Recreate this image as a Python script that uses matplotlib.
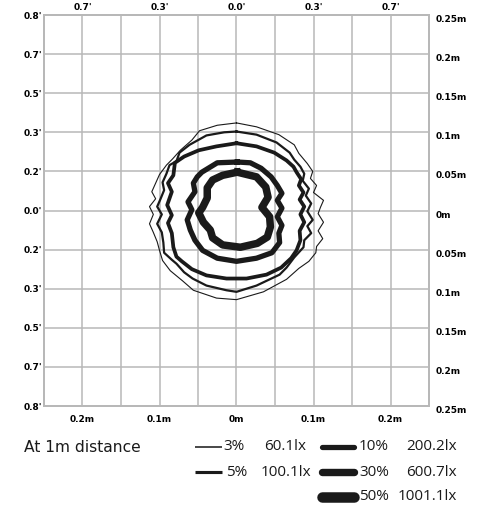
import numpy as np
import matplotlib
matplotlib.use('Agg')
import matplotlib.pyplot as plt
from matplotlib.lines import Line2D

# isolux contours at 1m distance, metres from beam centre
x3 = [0.000, 0.026, 0.055, 0.075, 0.081, 0.092, 0.099, 0.096, 0.104, 0.100, 0.113, 0.109,
      0.106, 0.113, 0.106, 0.112, 0.104, 0.103, 0.094, 0.081, 0.065, 0.035, 0.000, -0.026,
      -0.056, -0.070, -0.086, -0.096, -0.100, -0.103, -0.108, -0.113, -0.108, -0.113, -0.105,
      -0.110, -0.105, -0.100, -0.091, -0.083, -0.073, -0.058, -0.048, -0.025]
y3 = [0.112, 0.107, 0.097, 0.084, 0.073, 0.060, 0.050, 0.041, 0.032, 0.023, 0.013, 0.004,
      -0.004, -0.015, -0.026, -0.036, -0.046, -0.054, -0.065, -0.074, -0.088, -0.104, -0.114, -0.112,
      -0.102, -0.090, -0.077, -0.064, -0.051, -0.040, -0.028, -0.017, -0.005, 0.005, 0.015,
      0.024, 0.035, 0.046, 0.058, 0.066, 0.077, 0.090, 0.102, 0.109]

x5 = [0.000, 0.026, 0.052, 0.069, 0.075, 0.083, 0.088, 0.086, 0.094, 0.090, 0.097, 0.092,
      0.099, 0.092, 0.097, 0.088, 0.087, 0.075, 0.065, 0.056, 0.026, 0.000, -0.013, -0.039,
      -0.057, -0.068, -0.078, -0.084, -0.094, -0.095, -0.097, -0.103, -0.097, -0.103, -0.099,
      -0.094, -0.096, -0.091, -0.087, -0.078, -0.074, -0.061, -0.039, -0.016]
y5 = [0.101, 0.097, 0.087, 0.074, 0.065, 0.056, 0.047, 0.038, 0.028, 0.019, 0.009, -0.001,
      -0.012, -0.020, -0.029, -0.038, -0.047, -0.060, -0.073, -0.082, -0.096, -0.104, -0.102, -0.096,
      -0.087, -0.079, -0.068, -0.063, -0.054, -0.041, -0.028, -0.017, -0.005, 0.005, 0.014,
      0.026, 0.036, 0.047, 0.058, 0.063, 0.074, 0.084, 0.096, 0.100]

x10 = [0.000, 0.026, 0.049, 0.065, 0.074, 0.078, 0.084, 0.081, 0.087, 0.082, 0.088, 0.083,
       0.088, 0.082, 0.083, 0.078, 0.071, 0.058, 0.039, 0.013, -0.013, -0.039, -0.058, -0.071,
       -0.078, -0.082, -0.084, -0.089, -0.084, -0.090, -0.084, -0.089, -0.082, -0.080, -0.068,
       -0.049, -0.026]
y10 = [0.086, 0.082, 0.074, 0.064, 0.056, 0.049, 0.040, 0.032, 0.023, 0.014, 0.005, -0.005,
       -0.015, -0.026, -0.038, -0.051, -0.061, -0.073, -0.082, -0.087, -0.087, -0.083, -0.075, -0.065,
       -0.059, -0.047, -0.029, -0.016, -0.006, 0.007, 0.024, 0.035, 0.045, 0.061, 0.069,
       0.077, 0.082]

x30 = [0.001, 0.018, 0.032, 0.045, 0.053, 0.059, 0.053, 0.059, 0.053, 0.059, 0.055, 0.056,
       0.046, 0.026, 0.000, -0.025, -0.044, -0.054, -0.060, -0.064, -0.058, -0.063, -0.054,
       -0.056, -0.051, -0.045, -0.025]
y30 = [0.062, 0.061, 0.054, 0.043, 0.032, 0.022, 0.013, 0.003, -0.008, -0.019, -0.029, -0.041,
       -0.054, -0.061, -0.065, -0.061, -0.051, -0.038, -0.025, -0.012, 0.001, 0.011, 0.024,
       0.035, 0.043, 0.049, 0.061]

x50 = [0.001, 0.026, 0.038, 0.041, 0.033, 0.043, 0.044, 0.040, 0.027, 0.005, -0.018, -0.031,
       -0.034, -0.043, -0.049, -0.044, -0.038, -0.038, -0.031, -0.018]
y50 = [0.049, 0.043, 0.030, 0.017, 0.004, -0.008, -0.021, -0.034, -0.042, -0.047, -0.044, -0.035,
       -0.025, -0.015, -0.003, 0.004, 0.016, 0.029, 0.039, 0.045]

levels = ['3%', '5%', '10%', '30%', '50%']
lux = ['60.1lx', '100.1lx', '200.2lx', '600.7lx', '1001.1lx']

grid = np.linspace(-0.25, 0.25, 11)
bottom_labels = ['', '0.2m', '', '0.1m', '', '0m', '', '0.1m', '', '0.2m', '']
top_labels = ['', "0.7'", '', "0.3'", '', "0.0'", '', "0.3'", '', "0.7'", '']
left_labels = ["0.8'", "0.7'", "0.5'", "0.3'", "0.2'", "0.0'", "0.2'", "0.3'", "0.5'", "0.7'", "0.8'"]
right_labels = ['0.25m', '0.2m', '0.15m', '0.1m', '0.05m', '0m', '0.05m', '0.1m', '0.15m', '0.2m', '0.25m']

contours = [(x3, y3), (x5, y5), (x10, y10), (x30, y30), (x50, y50)]
widths = [0.8, 1.6, 2.7, 3.8, 5.4]
ink = '#1a1a1a'
gridc = '#b8b8b8'

fig = plt.figure(figsize=(4.85, 5.08), dpi=100)
ax = fig.add_axes([44/485, 1 - 406/508, 385/485, 391/508])
ax.set_xlim(-0.25, 0.25)
ax.set_ylim(-0.25, 0.25)

for (xs, ys), lw in zip(contours, widths):
  ax.plot(xs + xs[:1], ys + ys[:1], color=ink, lw=lw, solid_joinstyle='round', zorder=3)

ax.set_xticks(grid)
ax.set_xticklabels(bottom_labels)
ax.set_yticks(grid)
ax.set_yticklabels(left_labels)
ax.grid(True, color=gridc, lw=1.1)
ax.tick_params(length=0, labelsize=6.5, colors='black')
ax.tick_params(axis='x', pad=6.5)
ax.tick_params(axis='y', pad=1.5)

axt = ax.twiny()
axt.set_xlim(-0.25, 0.25)
axt.set_xticks(grid)
axt.set_xticklabels(top_labels)
axt.tick_params(length=0, labelsize=6.5, pad=2.5)

axr = ax.twinx()
axr.set_ylim(-0.25, 0.25)
axr.set_yticks(grid)
axr.set_yticklabels(right_labels)
axr.tick_params(length=0, labelsize=6.5, pad=5)
for t in axr.get_yticklabels():
  t.set_va('top')

for a in (ax, axt, axr):
  for s in a.spines.values():
    s.set_color(gridc)
    s.set_linewidth(1.3)
  for t in a.get_xticklabels() + a.get_yticklabels():
    t.set_fontweight('bold')

# legend
fig.text(24/485, 1 - 448/508, 'At 1m distance', fontsize=11.2, va='center', color='#1a1a1a')
rows = [447, 472, 447, 472, 497]
line_x = [(195, 222), (195, 222), (322, 354), (322, 354), (322, 354)]
pct_x = [223, 226, 359, 359, 359]
lux_x = [264, 261, 406, 406, 398]
for i in range(5):
  yy = 1 - rows[i]/508
  x0, x1 = line_x[i]
  fig.add_artist(Line2D([x0/485, x1/485], [yy, yy], color=ink, lw=widths[i]*1.4,
                        solid_capstyle='round' if i >= 2 else 'butt'))
  fig.text(pct_x[i]/485, yy, levels[i], fontsize=11, family='Open Sans', va='center', color='#1a1a1a')
  fig.text(lux_x[i]/485, yy, lux[i], fontsize=11, family='Open Sans', va='center', color='#1a1a1a')

fig.savefig('out.png', dpi=100)
